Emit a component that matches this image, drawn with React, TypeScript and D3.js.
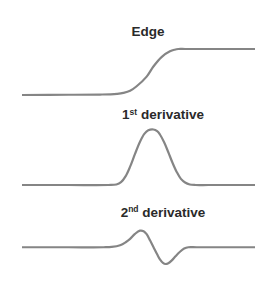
import React from "react";
import * as d3 from "d3";

// Sample positions along the horizontal axis (0..100) and readings per curve
const edgeX = [0, 20, 33.5, 38, 40.8, 43.5, 46.4, 49.2, 53.5, 56.4, 60, 63.5, 65.5, 67.1, 70, 80, 100];
const edgeY = [0, 0.005, 0.01, 0.015, 0.025, 0.045, 0.09, 0.19, 0.4, 0.62, 0.83, 0.95, 0.985, 1, 1, 1, 1];

const firstX = [0, 20, 37, 40.5, 42.5, 44.5, 46.4, 48.5, 50.6, 52.5, 54.2, 56.4, 58, 59.2, 61, 62.8, 64.6, 66.4, 68.2, 70, 72, 74.5, 80, 100];
const firstY = [0, 0, 0, 0.01, 0.05, 0.16, 0.33, 0.56, 0.775, 0.92, 0.985, 1, 0.97, 0.91, 0.77, 0.59, 0.4, 0.235, 0.11, 0.045, 0.01, 0, 0, 0];

const secondX = [0, 20, 35, 38.5, 42.1, 44.5, 46.4, 48.5, 50.6, 52.2, 53.5, 55, 56.4, 58, 59.2, 60.5, 61.6, 62.8, 64.2, 66, 67.8, 69.6, 71.4, 75, 100];
const secondY = [0, 0, 0, 0.02, 0.12, 0.3, 0.5, 0.8, 0.99, 0.96, 0.78, 0.4, 0.02, -0.42, -0.72, -0.93, -1, -0.95, -0.8, -0.52, -0.27, -0.08, 0, 0, 0];

const titles = ["Edge", "1", "2"];
const sups = ["", "st", "nd"];
const titleRest = ["", " derivative", " derivative"];

export default function App() {
  const W = 255, H = 296;
  const x = d3.scaleLinear().domain([0, 100]).range([22, 255]);
  const yEdge = d3.scaleLinear().domain([0, 1]).range([95, 49]);
  const yFirst = d3.scaleLinear().domain([0, 1]).range([185, 129.5]);
  const ySecond = d3.scaleLinear().domain([-1, 1]).range([264, 230.5]);

  const mk = (xs: number[], ys: number[], y: d3.ScaleLinear<number, number>) =>
    d3
      .line<number>()
      .x((_, i) => x(xs[i]))
      .y((v) => y(v))
      .curve(d3.curveCatmullRom.alpha(0.5))(ys) || "";

  const paths = [
    mk(edgeX, edgeY, yEdge),
    mk(firstX, firstY, yFirst),
    mk(secondX, secondY, ySecond),
  ];
  const titlePos = [
    { x: 148, y: 36 },
    { x: 163, y: 119 },
    { x: 163, y: 216.5 },
  ];

  return (
    <svg
      width={W}
      height={H}
      style={{ position: "absolute", left: 0, top: 0, background: "#fff" }}
      fontFamily="Liberation Sans, Arial, sans-serif"
    >
      {paths.map((d, i) => (
        <path key={i} d={d} fill="none" stroke="#858585" strokeWidth={2.2} strokeLinejoin="round" />
      ))}
      {titles.map((t, i) => (
        <text
          key={i}
          x={titlePos[i].x}
          y={titlePos[i].y}
          textAnchor="middle"
          fontSize={13.5}
          fontWeight="bold"
          fill="#2a2a2a"
        >
          {t}
          {sups[i] && (
            <tspan fontSize={8.5} dy={-4.5}>
              {sups[i]}
            </tspan>
          )}
          {titleRest[i] && <tspan dy={4.5}>{titleRest[i]}</tspan>}
        </text>
      ))}
    </svg>
  );
}
